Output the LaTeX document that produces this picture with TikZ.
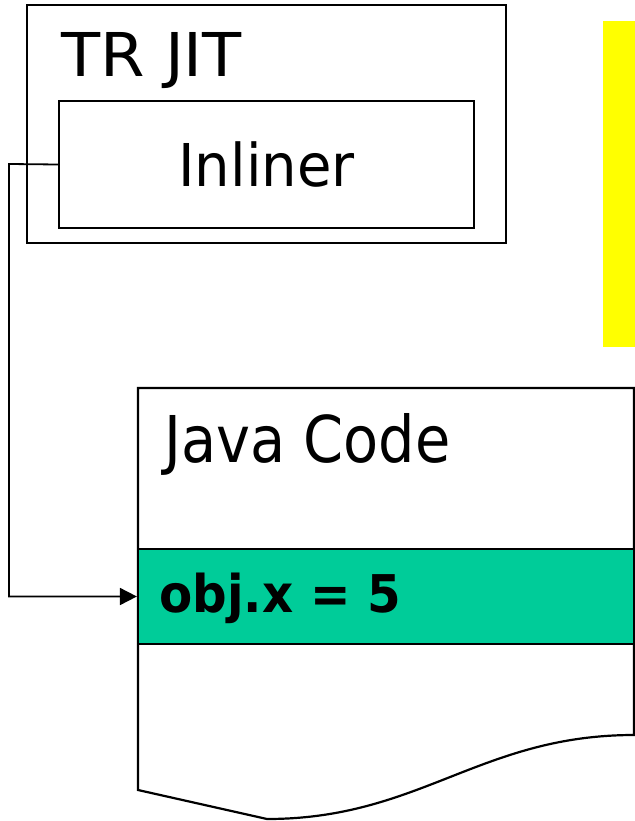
\documentclass[tikz,border=0pt]{standalone}
\usepackage{fontspec}
\usepackage{graphicx}
\setmainfont{DejaVu Sans}
\usetikzlibrary{arrows.meta}
\definecolor{codegreen}{RGB}{0,204,153}
\definecolor{pureyellow}{RGB}{255,255,0}
\newcommand{\sxtext}[3]{\scalebox{#1}[1]{\fontsize{#2}{#2}\selectfont #3}}
\tikzset{
  box/.style={draw=black, line width=2.2bp, inner sep=0pt},
  lbl/.style={anchor=base west, inner sep=0pt, text=black},
  conn/.style={draw=black, line width=1.8bp, -{Triangle[length=17bp,width=17bp]}}
}
\begin{document}
\begin{tikzpicture}[x=1bp,y=-1bp]
\useasboundingbox (0,0) rectangle (635,821);
% yellow bar
\fill[pureyellow] (603,21) rectangle (640,347);
% TR JIT box
\node[box, minimum width=479bp, minimum height=238bp] (tr) at (266.5,124) {};
\node[lbl] (trlabel) at (61,77) {\sxtext{1.06}{60.4bp}{TR JIT}};
% Inliner box
\node[box, minimum width=415bp, minimum height=127bp] (inl) at (266.5,164.5) {\sxtext{0.95}{59bp}{Inliner}};
% Java code document
\draw[line width=2.2bp, fill=white] (138,388) -- (634,388) -- (634,735)
  .. controls (480,735) and (420,819) .. (267,819) -- (138,790) -- cycle;
\node[lbl] (jlabel) at (164,462) {\sxtext{0.89}{64.5bp}{Java Code}};
% statement band
\node[box, fill=codegreen, minimum width=496bp, minimum height=95bp] (stmt) at (386,596.5) {};
\node[lbl] (slabel) at (159,612) {\sxtext{0.93}{52bp}{\bfseries obj.x = 5}};
% connector
\coordinate (bend) at (9,164);
\draw[conn] (inl.west) -- (bend) |- (stmt.west);
\end{tikzpicture}
\end{document}
